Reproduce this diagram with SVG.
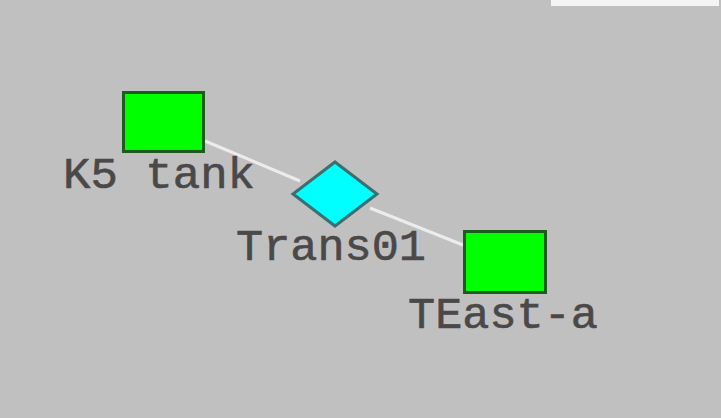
<svg xmlns="http://www.w3.org/2000/svg" width="721" height="418" viewBox="0 0 721 418">
<style>
.lbl{font-family:"Liberation Mono","Courier New",monospace;font-size:44px;fill:#4a4848;stroke:#4a4848;stroke-width:0.6}
.tank{fill:#00ff00;stroke:#1f5a1f;stroke-width:3}
.trans{fill:#00ffff;stroke:#3a7070;stroke-width:3}
.conn{stroke:#ececec;stroke-width:3;fill:none}
</style>
<rect x="0" y="0" width="721" height="418" fill="#c0c0c0"/>
<rect x="551" y="0" width="168" height="6" fill="#f4f4f4"/>
<g id="connectors">
<line class="conn" x1="205" y1="141" x2="300" y2="181"/>
<line class="conn" x1="370" y1="208" x2="463" y2="245"/>
</g>
<g id="k5tank">
<rect class="tank" x="123.5" y="92.5" width="80" height="59"/>
<text class="lbl" x="63" y="188" textLength="192" lengthAdjust="spacingAndGlyphs">K5 tank</text>
</g>
<g id="trans01">
<polygon class="trans" points="335,162 377,194 335,226 293,194"/>
<text class="lbl" x="236" y="260" textLength="190" lengthAdjust="spacingAndGlyphs">Trans01</text>
</g>
<g id="teast-a">
<rect class="tank" x="464.5" y="231.5" width="81" height="61"/>
<text class="lbl" x="408" y="328" textLength="190" lengthAdjust="spacingAndGlyphs">TEast-a</text>
</g>
</svg>
